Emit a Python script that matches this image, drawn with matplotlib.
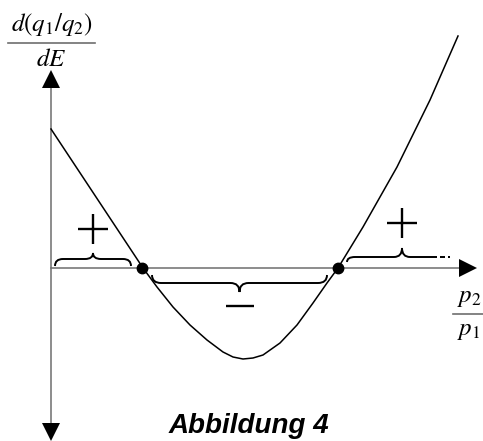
import matplotlib
matplotlib.use('Agg')
import matplotlib.pyplot as plt
from matplotlib.path import Path
from matplotlib.patches import PathPatch

plt.rcParams['mathtext.fontset'] = 'stix'

# curve d(q1/q2)/dE over p2/p1 (arbitrary units)
curve_x = [0.00, 0.92, 1.06, 1.22, 1.39, 1.56, 1.72, 1.82, 1.92, 2.02, 2.12,
           2.29, 2.46, 2.62, 2.76, 2.87, 3.12, 3.46, 3.79, 4.07]
curve_y = [1.39, 0.00, -0.19, -0.39, -0.57, -0.72, -0.84, -0.89, -0.91, -0.90,
           -0.87, -0.75, -0.57, -0.35, -0.15, 0.00, 0.41, 1.01, 1.68, 2.32]

# zero crossings (marked with dots)
roots = [0.91, 2.87]

title = 'Abbildung 4'
ylabel_num, ylabel_den = r'$d(q_1/q_2)$', r'$dE$'
xlabel_num, xlabel_den = r'$p_2$', r'$p_1$'


def brace(ax, x0, x1, y_end, y_flat, y_tip, q, cut=None):
    """Horizontal curly brace from x0 to x1, cusp at the middle.
    If cut is given the brace stops at x=cut (open to the right)."""
    xm = (x0 + x1) / 2
    verts = [(x0, y_end), (x0, y_flat), (x0 + q, y_flat),
             (xm - q, y_flat),
             (xm, y_flat), (xm, y_tip),
             (xm, y_flat), (xm + q, y_flat)]
    codes = [Path.MOVETO, Path.CURVE3, Path.CURVE3,
             Path.LINETO,
             Path.CURVE3, Path.CURVE3,
             Path.CURVE3, Path.CURVE3]
    if cut is None:
        verts += [(x1 - q, y_flat), (x1, y_flat), (x1, y_end)]
        codes += [Path.LINETO, Path.CURVE3, Path.CURVE3]
    else:
        verts += [(cut, y_flat)]
        codes += [Path.LINETO]
    ax.add_patch(PathPatch(Path(verts, codes), fill=False, lw=1.4,
                           edgecolor='black', capstyle='butt'))
    return xm


def fraction(ax, x, y_bar, num, den, half_width, size):
    # numerator / bar / denominator stacked around y_bar
    ax.text(x, y_bar + 0.05, num, fontsize=size, ha='center', va='bottom')
    ax.plot([x - half_width, x + half_width], [y_bar, y_bar], color=axis_col, lw=1.2)
    ax.text(x, y_bar - 0.04, den, fontsize=size, ha='center', va='top')


fig = plt.figure(figsize=(4.83, 4.41), dpi=100)
ax = fig.add_axes([0, 0, 1, 1])
ax.set_xlim(-0.51, 4.32)
ax.set_ylim(-1.73, 2.68)
ax.axis('off')

# axes with arrow heads
axis_col = '#6e6e6e'
ax.plot([0, 0], [-1.55, 1.80], color=axis_col, lw=1.1)
ax.plot([0, 4.09], [0, 0], color=axis_col, lw=1.1)
ax.plot(0, 1.89, marker='^', ms=12.5, color='black', mew=0)
ax.plot(0, -1.635, marker='v', ms=12.5, color='black', mew=0)
ax.plot(4.175, 0, marker='>', ms=12.5, color='black', mew=0)

# the curve
ax.plot(curve_x, curve_y, color='black', lw=1.1, solid_joinstyle='round')
ax.plot(roots, [0] * len(roots), 'o', color='black', ms=7.5)

# braces with signs
gap = 0.10
m1 = brace(ax, 0.04, roots[0] - gap - 0.01, 0.02, 0.09, 0.15, 0.08)
ax.plot(m1, 0.39, marker='+', ms=21.5, mew=1.7, color='black')

m2 = brace(ax, roots[0] + gap, roots[1] - gap - 0.01, -0.07, -0.15, -0.24, 0.09)
ax.plot(m2, -0.38, marker='_', ms=19.5, mew=1.7, color='black')

m3 = brace(ax, roots[1] + 0.09, 4.06, 0.06, 0.11, 0.20, 0.08, cut=3.86)
ax.plot(m3, 0.45, marker='+', ms=21.5, mew=1.7, color='black')
ax.plot([3.89, 3.94], [0.11, 0.11], color='black', lw=1.4, solid_capstyle='butt')
ax.plot([3.97, 3.99], [0.11, 0.11], color='black', lw=1.4, solid_capstyle='butt')

# labels
fraction(ax, 0.005, 2.25, ylabel_num, ylabel_den, 0.435, 18)
fraction(ax, 4.18, -0.46, xlabel_num, xlabel_den, 0.16, 18)
ax.text(1.975, -1.65, title, fontsize=20, family='Liberation Sans',
        weight='bold', style='italic', ha='center', va='baseline')

fig.savefig('out.png', dpi=100)
